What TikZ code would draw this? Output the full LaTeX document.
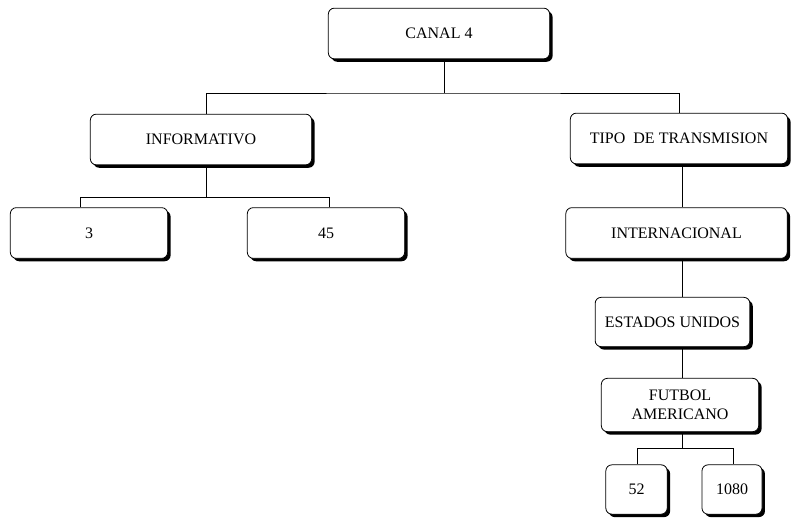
\documentclass[tikz,border=0pt]{standalone}
\usepackage{fontspec}
\setmainfont{Liberation Serif}
\usetikzlibrary{positioning,shadows}

\begin{document}
\begin{tikzpicture}[
  x=0.75pt, y=-0.75pt,
  bx/.style={draw, rounded corners=4.5pt, fill=white, line width=0.6pt,
    minimum height=38pt, align=center, font=\fontsize{12}{14}\selectfont,
    drop shadow={shadow xshift=2.2pt, shadow yshift=-2.2pt, fill=black, opacity=1}},
  conn/.style={line width=0.6pt},
]
\useasboundingbox (0,0) rectangle (792,521);

\node[bx, minimum width=166pt] (canal)  at (439,33.5)  {CANAL 4};
\node[bx, minimum width=166pt] (info)   at (201,139.5) {INFORMATIVO};
\node[bx, minimum width=163pt] (tipo)   at (679,138.5) {TIPO\ \ DE TRANSMISION};
\node[bx, minimum width=118pt] (n3)     at (89,233)    {3};
\node[bx, minimum width=118pt] (n45)    at (326,233)   {45};
\node[bx, minimum width=166pt] (inter)  at (676.5,233) {INTERNACIONAL};
\node[bx, minimum width=116pt, minimum height=37pt] (estados) at (672.5,322) {ESTADOS UNIDOS};
\node[bx, minimum width=118pt, minimum height=40pt] (futbol)  at (680,405)   {FUTBOL\\AMERICANO};
\node[bx, minimum width=46pt, minimum height=37pt]  (n52)     at (636.5,489.5) {52};
\node[bx, minimum width=45pt, minimum height=37pt]  (n1080)   at (732,489.5)   {1080};

% junctions
\coordinate (j1) at (444,93);
\coordinate (j2) at (206,197);
\coordinate (j3) at (682,448);
\coordinate (b3) at (80,197);
\coordinate (b45) at (329,197);
\coordinate (b52) at (637,448);
\coordinate (b1080) at (733,448);

\draw[conn] (canal.south -| j1) -- (j1);
\draw[conn] (info.north -| j2) |- (j1) -| (tipo.north);
\draw[conn] (info.south -| j2) -- (j2);
\draw[conn] (n3.north -| b3) -- (b3) -- (b45) -- (n45.north -| b45);
\draw[conn] (tipo.south -| j3) -- (inter.north -| j3);
\draw[conn] (inter.south -| j3) -- (estados.north -| j3);
\draw[conn] (estados.south -| j3) -- (futbol.north -| j3);
\draw[conn] (futbol.south -| j3) -- (j3);
\draw[conn] (n52.north -| b52) -- (b52) -- (b1080) -- (n1080.north -| b1080);
\end{tikzpicture}
\end{document}
